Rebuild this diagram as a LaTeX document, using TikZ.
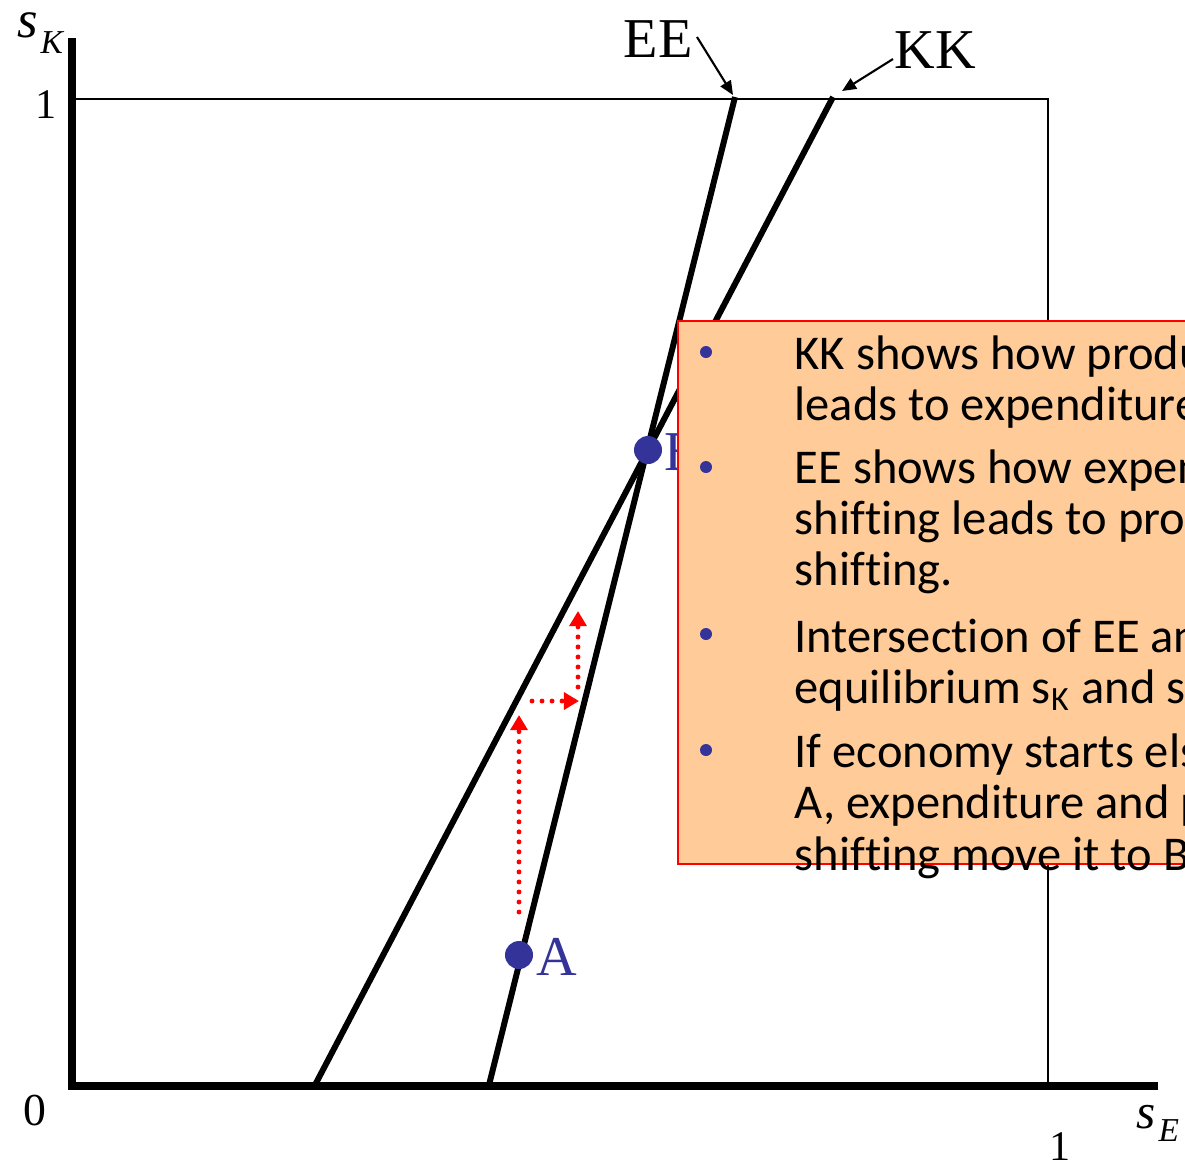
\documentclass[tikz,border=0pt]{standalone}
\usepackage{fontspec}
\setmainfont{Liberation Serif}
\newfontfamily\calfont[Ligatures={NoCommon}]{Carlito}
\usetikzlibrary{arrows.meta}
\definecolor{dotblue}{HTML}{333399}
\definecolor{peach}{HTML}{FFCC99}
\begin{document}
\begin{tikzpicture}[x=0.01cm,y=-0.01cm,
  thinbox/.style={line width=0.6pt},
  axis/.style={line width=2.2pt},
  curve/.style={line width=1.7pt},
  pointer/.style={line width=0.6pt,-{Triangle[length=4pt,width=3.4pt]}},
  redarrow/.style={red,line width=1.4pt,line cap=round,dash pattern=on 0pt off 2.85pt,-{Triangle[length=4.3pt,width=4.8pt]}},
  eqdot/.style={circle,fill=dotblue,inner sep=0pt,minimum size=0.28cm},
  bullet/.style={circle,fill=dotblue,inner sep=0pt,minimum size=0.12cm},
  lbl/.style={anchor=base west,inner sep=0pt,font=\fontsize{16}{18}\selectfont},
  ticklbl/.style={anchor=base west,inner sep=0pt},
  txt/.style={anchor=base west,inner sep=0pt,font=\calfont\fontsize{13.8}{15}\selectfont}]
\useasboundingbox (0,0) rectangle (1185,1159);
\clip (0,0) rectangle (1185,1159);
% thin unit box
\coordinate (c0) at (73,99);
\coordinate (c1) at (1048,99);
\coordinate (c2) at (1048,1086);
\draw[thinbox] (c0) -- (c1) -- (c2);
% axes
\coordinate (o) at (72,1086);
\coordinate (ytop) at (72,38);
\coordinate (xend) at (1158,1086);
\draw[axis] (ytop) -- (72,1089.5);
\draw[axis] (68,1086) -- (xend);
% curves
\coordinate (EEb) at (489,1085);
\coordinate (EEt) at (735,97);
\coordinate (KKb) at (315,1085);
\coordinate (KKt) at (833,97);
\draw[curve] (EEb) -- (EEt);
\draw[curve] (KKb) -- (KKt);
% curve labels
\node[lbl] (EE) at (623,57) {EE};
\node[lbl] (KK) at (894,68) {KK};
\coordinate (EEa0) at (697,37);
\coordinate (EEa1) at (733,95);
\coordinate (KKa0) at (893,59);
\coordinate (KKa1) at (842,91);
\draw[pointer] (EEa0) -- (EEa1);
\draw[pointer] (KKa0) -- (KKa1);
% red adjustment arrows
\coordinate (r1a) at (519,912);
\coordinate (r1b) at (519,715);
\coordinate (r2a) at (532,701);
\coordinate (r2b) at (579,701);
\coordinate (r3a) at (578,687);
\coordinate (r3b) at (578,611);
\draw[redarrow] (r1a) -- (r1b);
\draw[redarrow] (r2a) -- (r2b);
\draw[redarrow] (r3a) -- (r3b);
% equilibrium points
\node[eqdot] (A) at (519,955) {};
\node[eqdot] (B) at (648,450) {};
\node[lbl,text=dotblue] (Alab) at (536,975) {A};
\node[lbl,text=dotblue] (Blab) at (664,470) {B};
% axis labels
\node[ticklbl,font=\fontsize{15}{16}\selectfont\itshape] (sK) at (17,37) {s};
\node[ticklbl,font=\fontsize{9.5}{10}\selectfont\itshape] (sKsub) at (40,53) {K};
\node[ticklbl,font=\fontsize{12}{14}\selectfont] (one1) at (35,118) {1};
\node[ticklbl,font=\fontsize{13}{15}\selectfont] (zero) at (23,1125) {0};
\node[ticklbl,font=\fontsize{12}{14}\selectfont] (one2) at (1049,1160) {1};
\node[ticklbl,font=\fontsize{14}{15}\selectfont\itshape] (sE) at (1136,1128) {s};
\node[ticklbl,font=\fontsize{9.5}{10}\selectfont\itshape] (sEsub) at (1158,1141) {E};
% text box
\coordinate (bx0) at (678,321);
\coordinate (bx1) at (1240,864);
\draw[fill=peach,draw=red,line width=0.5pt] (bx0) rectangle (bx1);
\node[bullet] (b1) at (706,352) {};
\node[bullet] (b2) at (706,467) {};
\node[bullet] (b3) at (706,634) {};
\node[bullet] (b4) at (706,750) {};
\node[txt] (t1) at (794,369) {KK shows how production shifting};
\node[txt] (t2) at (794,420) {leads to expenditure shifting.};
\node[txt] (t3) at (794,483) {EE shows how expenditure};
\node[txt] (t4) at (794,534) {shifting leads to production};
\node[txt] (t5) at (794,585) {shifting.};
\node[txt] (t6) at (794,652) {Intersection of EE and KK gives};
\node[txt] (t7) at (794,703) {equilibrium s\textsubscript{K} and s\textsubscript{E}.};
\node[txt] (t8) at (794,767) {If economy starts elsewhere, e.g. at};
\node[txt] (t9) at (794,818) {A, expenditure and production};
\node[txt] (t10) at (794,870) {shifting move it to B.};
\end{tikzpicture}
\end{document}
